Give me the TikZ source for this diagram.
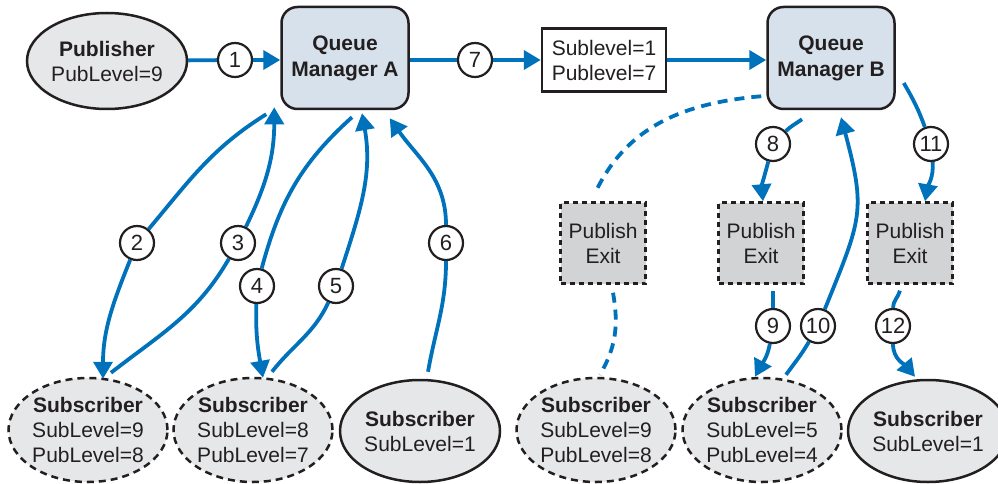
\documentclass[tikz,border=0pt]{standalone}
\usepackage{fontspec}
\setmainfont{Liberation Sans}
\usetikzlibrary{arrows.meta,positioning,shapes.geometric}
\definecolor{flowblue}{RGB}{0,114,188}
\definecolor{qmfill}{RGB}{214,225,235}
\definecolor{appfill}{RGB}{230,231,232}
\definecolor{exitfill}{RGB}{209,211,212}
\definecolor{ink}{RGB}{35,31,32}

\begin{document}
\begin{tikzpicture}[
  x=1pt, y=1pt,
  font=\fontsize{21}{25}\selectfont,
  app/.style={draw=ink, ellipse, line width=2.5pt, fill=appfill, text=ink, align=center, minimum width=160pt, minimum height=96pt, inner sep=0pt},
  subdash/.style={app, dash pattern=on 7pt off 5pt, minimum width=159pt, minimum height=104pt},
  qmgr/.style={draw=ink, rectangle, rounded corners=16pt, line width=2.5pt, fill=qmfill, text=ink, align=center, minimum width=127pt, minimum height=102pt, font=\fontsize{21}{26}\selectfont\bfseries},
  levels/.style={draw=ink, rectangle, line width=2.5pt, fill=white, text=ink, align=left, minimum width=124pt, minimum height=63pt},
  exitbox/.style={draw=ink, rectangle, line width=2.5pt, dash pattern=on 5pt off 4pt, fill=exitfill, text=ink, align=center, minimum width=85pt, minimum height=81pt},
  num/.style={draw=ink, circle, line width=2.2pt, fill=white, text=ink, minimum size=34pt, inner sep=0pt, font=\fontsize{22}{25}\selectfont},
  flow/.style={draw=flowblue, line width=3.8pt},
  arrow/.style={flow, -{Triangle[length=17pt,width=19pt]}},
  hint/.style={flow, dash pattern=on 10pt off 7pt}
]
  \useasboundingbox (0,0) rectangle (998,483);

  % Apps and queue managers
  \node[app] (pub) at (107,422) {\textbf{Publisher}\\PubLevel=9};
  \node[qmgr] (qmA) at (345,425) {Queue\\Manager A};
  \node[levels] (lvl) at (604,423) {Sublevel=1\\Publevel=7};
  \node[qmgr] (qmB) at (831,425) {Queue\\Manager B};

  % Publish exits
  \node[exitbox] (ex1) at (603,240) {Publish\\Exit};
  \node[exitbox] (ex2) at (761,240) {Publish\\Exit};
  \node[exitbox] (ex3) at (910,240) {Publish\\Exit};

  % Subscribers
  \node[subdash] (s1) at (88,53) {\textbf{Subscriber}\\SubLevel=9\\PubLevel=8};
  \node[subdash] (s2) at (253,53) {\textbf{Subscriber}\\SubLevel=8\\PubLevel=7};
  \node[app, minimum height=102pt] (s3) at (420,52) {\textbf{Subscriber}\\SubLevel=1};
  \node[subdash] (t1) at (596,53) {\textbf{Subscriber}\\SubLevel=9\\PubLevel=8};
  \node[subdash] (t2) at (762,53) {\textbf{Subscriber}\\SubLevel=5\\PubLevel=4};
  \node[app, minimum height=102pt] (t3) at (928,52) {\textbf{Subscriber}\\SubLevel=1};

  % Steps
  \node[num] (n1) at (235,423) {1};
  \node[num] (n2) at (137,240) {2};
  \node[num] (n3) at (238,240) {3};
  \node[num] (n4) at (257,197) {4};
  \node[num] (n5) at (336,197) {5};
  \node[num] (n6) at (446,240) {6};
  \node[num] (n7) at (475,423) {7};
  \node[num] (n8) at (773,339) {8};
  \node[num] (n9) at (773,157) {9};
  \node[num] (n10) at (818,157) {10};
  \node[num] (n11) at (931,339) {11};
  \node[num] (n12) at (893,157) {12};

  % Queue manager A
  \draw[flow] (pub) -- (n1);
  \draw[arrow] (n1) -- (n1 -| qmA.west);
  \draw[flow] ([xshift=-14pt,yshift=-4pt]qmA.south west) to[out=212,in=50] (n2);
  \draw[arrow] (n2) to[out=248,in=90] ([xshift=15pt,yshift=-2pt]s1.north);
  \draw[flow] ([xshift=23pt,yshift=4pt]s1.north) to[out=38,in=240] (n3);
  \draw[arrow] (n3) to[out=64,in=-90] ([xshift=-6pt,yshift=3pt]qmA.south west);
  \draw[flow] ([xshift=7pt,yshift=-7pt]qmA.south) to[out=222,in=75] (n4);
  \draw[arrow] (n4) to[out=268,in=100] ([xshift=10pt,yshift=-1pt]s2.north);
  \draw[flow] ([xshift=19pt,yshift=5pt]s2.north) to[out=52,in=245] (n5);
  \draw[arrow] (n5) to[out=72,in=-80] ([xshift=17pt,yshift=-3pt]qmA.south);
  \draw[flow] ([xshift=8pt,yshift=7pt]s3.north) to[out=80,in=-90] (n6);
  \draw[arrow] (n6) to[out=90,in=-55] ([xshift=-20pt,yshift=-8pt]qmA.south east);

  % To queue manager B
  \draw[flow] (qmA.east |- n7) -- (n7);
  \draw[arrow] (n7) -- (n7 -| lvl.west);
  \draw[arrow] (lvl.east |- n7) -- (n7 -| qmB.west);

  % Queue manager B
  \draw[hint] ([xshift=-5pt,yshift=14pt]qmB.south west) to[out=185,in=65] ([xshift=-8pt,yshift=8pt]ex1.north);
  \draw[hint] ([xshift=10pt,yshift=-8pt]ex1.south) to[out=-80,in=60] ([xshift=4pt,yshift=2pt]t1.north);
  \draw[flow] ([xshift=-29pt,yshift=-9pt]qmB.south) to[out=216,in=45] (n8);
  \draw[arrow] (n8) to[out=255,in=95] ([xshift=2pt]ex2.north);
  \draw[flow] ([xshift=12pt,yshift=-6pt]ex2.south) to[out=-90,in=90] (n9);
  \draw[arrow] (n9) to[out=-100,in=62] ([xshift=-7pt]t2.north);
  \draw[flow] ([xshift=24pt,yshift=2pt]t2.north) to[out=54,in=240] (n10);
  \draw[arrow] (n10) to[out=68,in=-75,looseness=1.3] ([xshift=10pt,yshift=-7pt]qmB.south);
  \draw[flow] ([xshift=8pt,yshift=-25pt]qmB.east) to[out=-60,in=110] (n11);
  \draw[arrow] (n11) to[out=-85,in=80] ([xshift=15pt]ex3.north);
  \draw[flow] ([xshift=-10pt,yshift=-6pt]ex3.south) to[out=-106,in=90] (n12);
  \draw[arrow] (n12) to[out=-90,in=130] ([xshift=-13pt,yshift=2pt]t3.north);
\end{tikzpicture}
\end{document}
